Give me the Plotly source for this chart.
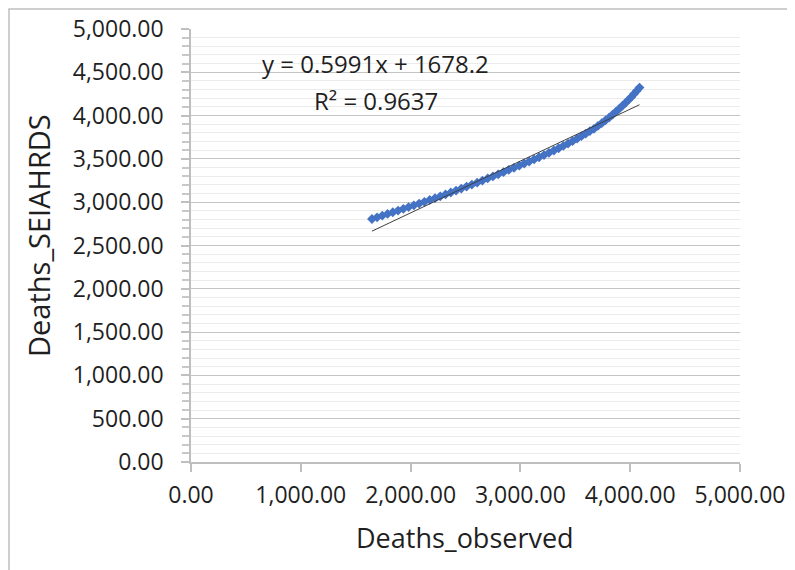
import plotly.graph_objects as go

# Data
deaths_observed = [1648, 1695, 1742, 1790, 1838, 1886, 1934, 1982, 2030, 2078, 2126, 2174,
                   2222, 2270, 2318, 2366, 2414, 2462, 2510, 2558, 2606, 2654, 2702, 2750,
                   2798, 2846, 2894, 2942, 2990, 3035, 3080, 3125, 3170, 3215, 3260, 3305,
                   3348, 3391, 3434, 3475, 3516, 3556, 3595, 3633, 3670, 3706, 3741, 3775,
                   3808, 3840, 3871, 3901, 3930, 3958, 3985, 4011, 4036, 4060, 4085]
deaths_seiahrds = [2806, 2825, 2844, 2864, 2884, 2904, 2924, 2944, 2964, 2984, 3005, 3026,
                   3047, 3068, 3090, 3112, 3134, 3157, 3180, 3203, 3226, 3250, 3274, 3298,
                   3322, 3347, 3372, 3397, 3422, 3446, 3470, 3494, 3519, 3544, 3570, 3597,
                   3623, 3650, 3677, 3705, 3733, 3762, 3791, 3821, 3848, 3880, 3912, 3945,
                   3978, 4012, 4046, 4080, 4114, 4148, 4182, 4216, 4251, 4286, 4324]

trend_slope = 0.5991
trend_intercept = 1678.2
trend_label = "y = 0.5991x + 1678.2"
r2_label = "R² = 0.9637"
x_title = "Deaths_observed"
y_title = "Deaths_SEIAHRDS"

x_ticks = [0, 1000, 2000, 3000, 4000, 5000]
y_ticks = [0, 500, 1000, 1500, 2000, 2500, 3000, 3500, 4000, 4500, 5000]

FONT = "Open Sans"
TXT = "#1f1f1f"

x_min, x_max = min(deaths_observed), max(deaths_observed)
trend_x = [x_min, x_max]
trend_y = [trend_slope * v + trend_intercept for v in trend_x]

fig = go.Figure()
fig.add_trace(go.Scatter(
    x=deaths_observed, y=deaths_seiahrds, mode="markers",
    marker=dict(symbol="diamond", size=7.5, color="#4472C4", line=dict(width=0)),
    showlegend=False, hoverinfo="x+y"))
fig.add_trace(go.Scatter(
    x=trend_x, y=trend_y, mode="lines",
    line=dict(color="#404040", width=1),
    showlegend=False, hoverinfo="skip"))

# page body adds an 8px offset; work in window pixels and subtract it
OFF = 8
W, H = 795 - OFF, 570 - OFF
L, T = 191 - OFF, 29 - OFF
R = W - (740 - OFF)
B = H - (462 - OFF)
PW, PH = W - L - R, H - T - B


def px(xw):
    return (xw - OFF - L) / PW


def py(yw):
    return (H - B - (yw - OFF)) / PH


fig.update_layout(
    width=W, height=H,
    margin=dict(l=L, r=R, t=T, b=B, autoexpand=False),
    paper_bgcolor="white", plot_bgcolor="white",
    font=dict(family=FONT, color=TXT),
    xaxis=dict(
        range=[0, 5000], tickvals=x_ticks, tickformat=",.2f",
        showgrid=False, zeroline=False, automargin=False,
        showline=True, linecolor="#bfbfbf", linewidth=1.5,
        ticks="outside", ticklen=8, tickcolor="#bfbfbf", tickwidth=1.5,
        ticklabelstandoff=4,
        tickfont=dict(size=23, family=FONT, color=TXT),
    ),
    yaxis=dict(
        range=[0, 5000], tickvals=y_ticks, tickformat=",.2f",
        showgrid=True, gridcolor="#c4c4c4", gridwidth=1.3,
        zeroline=False, automargin=False,
        showline=True, linecolor="#bfbfbf", linewidth=1.5,
        ticks="outside", ticklen=8, tickcolor="#bfbfbf", tickwidth=1.5,
        ticklabelstandoff=13,
        tickfont=dict(size=23, family=FONT, color=TXT),
        minor=dict(dtick=100, showgrid=True, gridcolor="#ebebeb", gridwidth=1,
                   ticks="outside", ticklen=7, tickcolor="#c8c8c8"),
    ),
    shapes=[dict(type="rect", xref="paper", yref="paper",
                 x0=px(9), x1=px(810), y0=py(585), y1=py(9),
                 line=dict(color="#bfbfbf", width=1.5), fillcolor="rgba(0,0,0,0)",
                 layer="below")],
    annotations=[
        dict(text=trend_label, x=px(375), y=py(64), xref="paper", yref="paper",
             xanchor="center", yanchor="middle",
             showarrow=False, font=dict(size=24, family=FONT, color=TXT)),
        dict(text=r2_label, x=px(376), y=py(100), xref="paper", yref="paper",
             xanchor="center", yanchor="middle",
             showarrow=False, font=dict(size=24, family=FONT, color=TXT)),
        dict(text=x_title, x=px(465), y=py(537), xref="paper", yref="paper",
             xanchor="center", yanchor="middle",
             showarrow=False, font=dict(size=27, family=FONT, color=TXT)),
        dict(text=y_title, x=px(38), y=py(236), xref="paper", yref="paper",
             xanchor="center", yanchor="middle",
             showarrow=False, textangle=-90, font=dict(size=29, family=FONT, color=TXT)),
    ],
)

fig.write_html("out.html")
